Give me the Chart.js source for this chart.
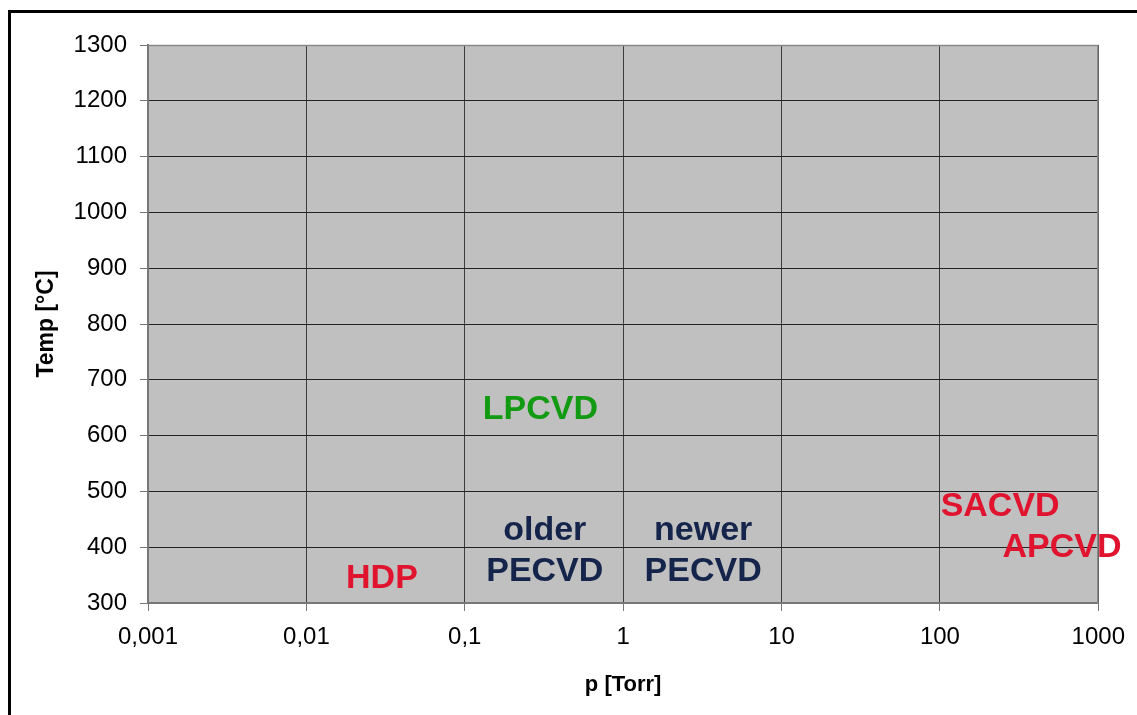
<!DOCTYPE html>
<html>
<head>
<meta charset="utf-8">
<script src="https://cdn.jsdelivr.net/npm/chart.js@4/dist/chart.umd.min.js"></script>
<style>
  body { margin:0; background:#fff; }
</style>
</head>
<body>
<canvas id="cvd" width="1137" height="715"></canvas>
<script>
// process regions: pressure [Torr] vs temperature [°C]
var processes = ['HDP', 'older\nPECVD', 'newer\nPECVD', 'LPCVD', 'SACVD', 'APCVD'];
var pressure = [0.03, 0.32, 3.2, 0.3, 240, 590];
var temperature = [343, 393, 393, 647, 472, 400];

var xTicks = [0.001, 0.01, 0.1, 1, 10, 100, 1000];
var xTickLabels = ['0,001', '0,01', '0,1', '1', '10', '100', '1000'];

var labelColors = ['#e0142e', '#14244a', '#14244a', '#129a12', '#e0142e', '#e0142e'];

var font = 'Liberation Sans, Arial, sans-serif';

var background = {
  id:'background',
  beforeDraw:function(chart){
    var c = chart.ctx, a = chart.chartArea;
    c.save();
    c.fillStyle = '#fff';
    c.fillRect(0, 0, chart.width, chart.height);
    c.fillStyle = '#c0c0c0';
    c.fillRect(a.left, a.top, a.right - a.left, a.bottom - a.top);
    // outer frame
    c.strokeStyle = '#000';
    c.lineWidth = 3;
    c.beginPath();
    c.moveTo(9.5, chart.height + 2);
    c.lineTo(9.5, 11.5);
    c.lineTo(chart.width + 2, 11.5);
    c.stroke();
    c.restore();
  },
  afterDraw:function(chart){
    var c = chart.ctx, a = chart.chartArea;
    c.save();
    c.strokeStyle = '#888';
    c.lineWidth = 1.5;
    c.beginPath();
    c.moveTo(a.left, a.top + 0.5);
    c.lineTo(a.right - 0.5, a.top + 0.5);
    c.lineTo(a.right - 0.5, a.bottom);
    c.stroke();
    c.restore();
  }
};

var textLabels = {
  id:'textLabels',
  afterDatasetsDraw:function(chart){
    var c = chart.ctx;
    var meta = chart.getDatasetMeta(0);
    c.save();
    c.font = 'bold 34px ' + font;
    c.textAlign = 'center';
    c.textBaseline = 'middle';
    meta.data.forEach(function(pt, i){
      var lines = processes[i].split('\n');
      var lh = 41;
      var y0 = pt.y - (lines.length - 1) * lh / 2;
      c.fillStyle = labelColors[i];
      lines.forEach(function(t, j){
        c.fillText(t, pt.x, y0 + j * lh);
      });
    });
    c.restore();
  }
};

var chart = new Chart(document.getElementById('cvd'), {
  type:'scatter',
  data:{
    datasets:[{
      data:pressure.map(function(p, i){ return {x:p, y:temperature[i]}; }),
      pointRadius:0,
      pointHoverRadius:0
    }]
  },
  options:{
    responsive:false,
    animation:false,
    events:[],
    layout:{padding:{top:45, right:38, left:0, bottom:0}},
    plugins:{legend:{display:false}, tooltip:{enabled:false}},
    scales:{
      x:{
        type:'logarithmic',
        min:0.001,
        max:1000,
        afterBuildTicks:function(s){ s.ticks = xTicks.map(function(v){ return {value:v}; }); },
        afterFit:function(s){ s.height = 112; },
        ticks:{
          autoSkip:false,
          maxRotation:0,
          padding:12,
          color:'#000',
          font:{family:font, size:24},
          callback:function(v, i){ return xTickLabels[i]; }
        },
        grid:{color:'#3c3c3c', tickLength:8, tickColor:'#777'},
        border:{color:'#777', width:2},
        title:{display:true, text:'p [Torr]', color:'#000', padding:{top:0, bottom:17},
               font:{family:font, size:22, weight:'bold'}}
      },
      y:{
        min:300,
        max:1300,
        afterFit:function(s){ s.width = 148; },
        ticks:{
          stepSize:100,
          padding:13,
          color:'#000',
          font:{family:font, size:24},
          callback:function(v){ return String(v); }
        },
        grid:{color:'#222', tickLength:8, tickColor:'#777'},
        border:{color:'#777', width:2},
        title:{display:true, text:'Temp [°C]', color:'#000', padding:{top:33, bottom:0},
               font:{family:font, size:23, weight:'bold'}}
      }
    }
  },
  plugins:[background, textLabels]
});
</script>
</body>
</html>
